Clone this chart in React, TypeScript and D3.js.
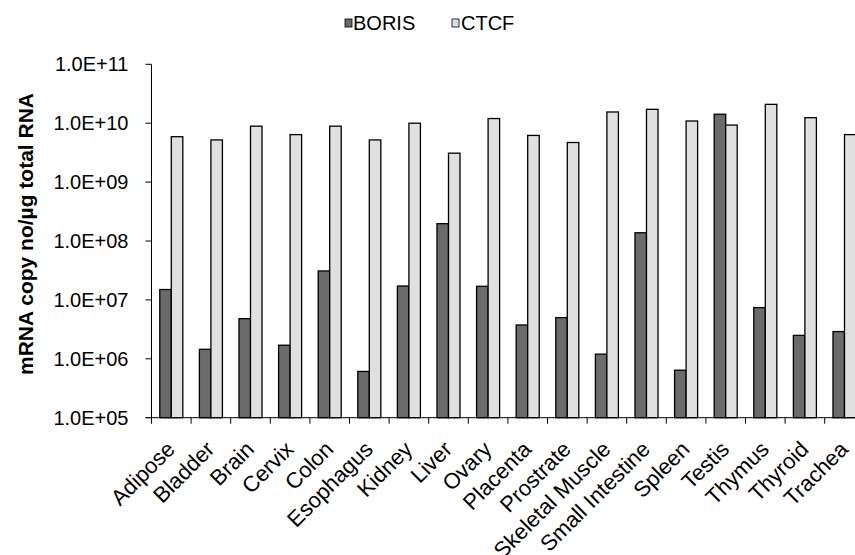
import React from 'react'
import * as d3 from 'd3'

const tissues = ['Adipose', 'Bladder', 'Brain', 'Cervix', 'Colon', 'Esophagus', 'Kidney', 'Liver', 'Ovary',
  'Placenta', 'Prostrate', 'Skeletal Muscle', 'Small Intestine', 'Spleen', 'Testis', 'Thymus', 'Thyroid', 'Trachea']
const series = ['BORIS', 'CTCF']
const boris = [1.5e7, 1.45e6, 4.8e6, 1.7e6, 3.1e7, 6.1e5, 1.72e7, 1.97e8, 1.7e7,
  3.75e6, 5.0e6, 1.2e6, 1.38e8, 6.4e5, 1.42e10, 7.4e6, 2.5e6, 2.9e6]
const ctcf = [5.9e9, 5.2e9, 8.9e9, 6.4e9, 8.9e9, 5.2e9, 1.0e10, 3.1e9, 1.2e10,
  6.2e9, 4.7e9, 1.55e10, 1.72e10, 1.09e10, 9.3e9, 2.09e10, 1.24e10, 6.4e9]
const yTicks = [1e5, 1e6, 1e7, 1e8, 1e9, 1e10, 1e11]
const colors = ['#6b6b6b', '#e0e0e0']

const font = 'Arial, "Liberation Sans", sans-serif'

function App() {
  const left = 151.5
  const top = 64.3
  const bottom = 417.7
  const step = 39.6

  const x0 = d3.scaleBand().domain(tissues).range([left, left + step * tissues.length]).padding(0)
  const x1 = d3.scaleBand().domain(series).range([0, x0.bandwidth()]).paddingInner(0).paddingOuter(0.72)
  const y = d3.scaleLog().domain([1e5, 1e11]).range([bottom, top])

  const values = [boris, ctcf]
  // excel style 1.0E+07 labels
  const fmt = (v) => '1.0E+' + String(Math.round(Math.log10(v))).padStart(2, '0')

  return (
    <svg width={855} height={555} style={{position: 'absolute', left: 0, top: 0, background: '#fff'}}
      fontFamily={font}>
      {/* legend */}
      <g>
        <rect x={345} y={19} width={7} height={8} fill={colors[0]} stroke="#000" strokeWidth={0.8} />
        <text x={353} y={30} fontSize={20}>BORIS</text>
        <rect x={452} y={19} width={7} height={8} fill={colors[1]} stroke="#000" strokeWidth={0.8} />
        <text x={461} y={30} fontSize={20}>CTCF</text>
      </g>

      {/* bars */}
      {tissues.map((t, i) => (
        <g key={t} transform={`translate(${x0(t)},0)`}>
          {series.map((s, j) => (
            <rect key={s} x={x1(s)} y={y(values[j][i])} width={x1.bandwidth()}
              height={bottom - y(values[j][i])} fill={colors[j]} stroke="#000" strokeWidth={1.3} />
          ))}
        </g>
      ))}

      {/* y axis */}
      <line x1={left} x2={left} y1={top} y2={bottom} stroke="#000" strokeWidth={1} />
      {yTicks.map(v => (
        <g key={v}>
          <line x1={left - 6} x2={left} y1={y(v)} y2={y(v)} stroke="#000" />
          <text x={left - 23} y={y(v)} dy="0.35em" textAnchor="end" fontSize={20}>{fmt(v)}</text>
        </g>
      ))}
      <text transform={`translate(33,234) rotate(-90)`} textAnchor="middle"
        fontSize={21} fontWeight="bold">mRNA copy no/µg total RNA</text>

      {/* x axis */}
      <line x1={left - 6} x2={855} y1={bottom} y2={bottom} stroke="#000" />
      {tissues.map(t => (
        <line key={t} x1={x0(t)} x2={x0(t)} y1={bottom} y2={bottom + 6} stroke="#000" />
      ))}
      {tissues.map(t => (
        <text key={t} transform={`translate(${x0(t) + x0.bandwidth() / 2 - 6},${bottom + 22}) rotate(-45)`}
          textAnchor="end" dy="0.7em" fontSize={22}>{t}</text>
      ))}
    </svg>
  )
}

export default App
